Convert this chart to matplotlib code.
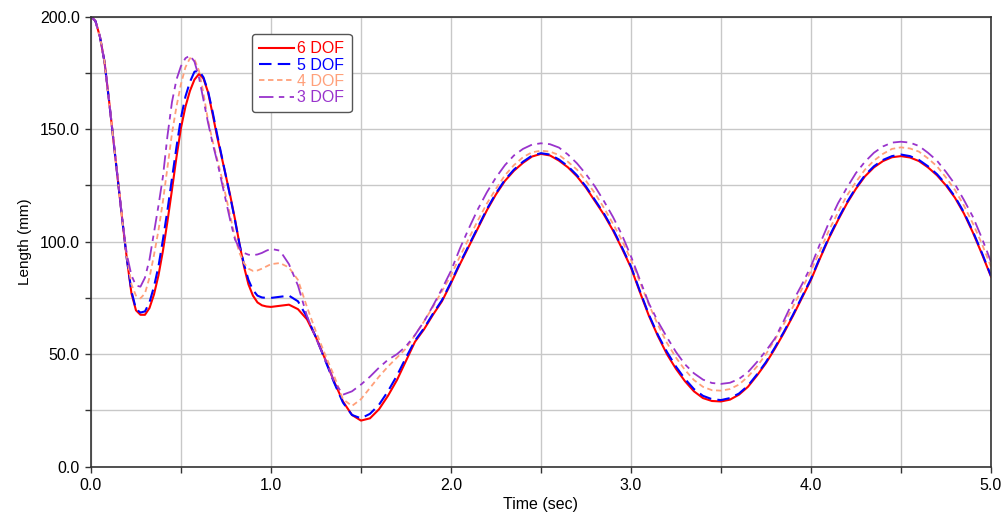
import matplotlib.pyplot as plt
from matplotlib.ticker import MultipleLocator, FormatStrFormatter

plt.rcParams['font.family'] = ['Liberation Sans', 'DejaVu Sans']

# time samples (sec): 0.025 steps up to 1.0, 0.05 steps after
t = [0.0, 0.025, 0.05, 0.075, 0.1, 0.125, 0.15, 0.175, 0.2, 0.225,
     0.25, 0.275, 0.3, 0.325, 0.35, 0.375, 0.4, 0.425, 0.45, 0.475,
     0.5, 0.525, 0.55, 0.575, 0.6, 0.625, 0.65, 0.675, 0.7, 0.725,
     0.75, 0.775, 0.8, 0.825, 0.85, 0.875, 0.9, 0.925, 0.95, 0.975,
     1.0, 1.05, 1.1, 1.15, 1.2, 1.25, 1.3, 1.35, 1.4, 1.45,
     1.5, 1.55, 1.6, 1.65, 1.7, 1.75, 1.8, 1.85, 1.9, 1.95,
     2.0, 2.05, 2.1, 2.15, 2.2, 2.25, 2.3, 2.35, 2.4, 2.45,
     2.5, 2.55, 2.6, 2.65, 2.7, 2.75, 2.8, 2.85, 2.9, 2.95,
     3.0, 3.05, 3.1, 3.15, 3.2, 3.25, 3.3, 3.35, 3.4, 3.45,
     3.5, 3.55, 3.6, 3.65, 3.7, 3.75, 3.8, 3.85, 3.9, 3.95,
     4.0, 4.05, 4.1, 4.15, 4.2, 4.25, 4.3, 4.35, 4.4, 4.45,
     4.5, 4.55, 4.6, 4.65, 4.7, 4.75, 4.8, 4.85, 4.9, 4.95, 5.0]

# length (mm) for each model
dof6 = [200, 198, 191, 180, 163, 145, 127, 109, 92, 77,
        69.5, 67.5, 67.5, 70.5, 76.5, 85, 96, 109, 123, 137.5,
        150.5, 160, 167, 172, 174.5, 172.5, 166.5, 157, 147, 138,
        129, 120, 110, 99, 89, 81, 76, 73, 71.7, 71.2,
        71, 71.5, 72, 70, 65.5, 57.5, 48, 38, 29, 23,
        20.5, 21.5, 25.5, 31.5, 38.5, 47, 55.5, 61, 67.5, 73.5,
        81.5, 90, 98, 106, 114, 121, 127, 131.5, 135, 137.8,
        139, 138.3, 136, 133, 129, 124, 118, 112, 105, 97,
        88.5, 77.5, 67, 58, 50, 43.5, 38, 33.5, 30.5, 29.2,
        29, 29.8, 32, 35.5, 40.5, 46, 52.5, 59.5, 67, 75,
        83, 92.5, 101.5, 109.5, 117, 123.5, 129, 133, 135.8, 137.5,
        138, 137.4, 135.8, 133, 129.5, 125, 119.5, 112.5, 104, 94.5, 84.5]

dof5 = [200, 198, 191, 180, 163, 145, 127, 109, 92, 78,
        70, 68.5, 69, 73, 80, 89, 101, 114, 128, 142,
        155, 164.5, 171, 175.5, 176, 173, 167, 158, 148, 138.5,
        129, 119.5, 109.5, 99, 90, 83, 78.5, 76, 75.2, 75,
        75, 75.5, 76, 73.5, 66.5, 57.5, 47.5, 37.5, 28.5, 23,
        21.5, 23.5, 27.5, 33.5, 40.5, 48.5, 56, 61.5, 68, 74,
        82, 90.5, 98.5, 106.5, 114.5, 121.5, 127.5, 132, 135.5, 138.2,
        139.3, 138.7, 136.5, 133.5, 129.5, 124.5, 118.5, 112.5, 105.5, 97.5,
        89, 78, 67.5, 58.5, 51, 44.5, 39, 34.5, 31.5, 30,
        29.6, 30.5, 32.5, 36, 41, 46.5, 53, 60, 67.5, 75.5,
        83.5, 93, 102, 110, 117.5, 124, 129.5, 133.5, 136.3, 138,
        138.7, 138, 136.3, 133.5, 130, 125.5, 120, 113, 104.5, 95, 84.8]

dof4 = [200, 198, 191, 180, 163, 145, 127, 109, 93, 81,
        76, 74.8, 77, 84, 94, 105, 118, 133, 148, 160,
        170, 177.5, 181.5, 181, 176, 166, 154, 145, 137, 129,
        120, 111, 102, 95, 90.5, 88, 87, 87.2, 88, 89,
        90, 90.5, 88.5, 83, 71, 60, 50, 40.5, 30, 27,
        30, 35, 40, 44.5, 48.5, 52.5, 58.5, 64.5, 71, 78,
        85, 93.5, 101.5, 109.5, 117, 123.5, 129.5, 134, 137.5, 139.7,
        140.4, 140, 138.5, 135.5, 132, 127, 121.5, 115, 108, 100.5,
        92, 82, 72, 63, 55, 48.5, 43, 38.5, 35.5, 34,
        33.8, 34.5, 36.5, 40, 44.5, 50, 56.5, 63.5, 71, 79,
        87, 96, 105, 113, 120.5, 126.5, 132, 136, 139, 141.2,
        141.9, 141.4, 140, 137, 133.5, 128.5, 123, 116, 108, 99, 88.9]

dof3 = [200, 198, 191, 180, 163, 145, 127, 109, 94, 85,
        80.5, 80, 84, 92, 104, 116, 129, 147, 162, 172,
        178, 181.5, 182.7, 180, 173, 163, 153, 144, 136, 127,
        118, 109, 101, 97, 95, 94.2, 94, 94.3, 95, 96,
        96.8, 96, 90, 80.5, 67, 57, 48, 38, 32, 33.5,
        36.5, 40, 44, 47.5, 50, 53.5, 58.5, 64.5, 71.5, 79,
        87, 97, 106, 114.5, 122, 128.5, 134, 138.3, 141.2, 143.1,
        143.7, 143.3, 141.8, 138.7, 134.8, 130, 124.5, 118, 111, 103,
        93.5, 83, 72.5, 64.5, 57.5, 51, 45.5, 41.5, 38.7, 37.2,
        36.8, 37.3, 39, 42, 46.5, 51.5, 57, 65, 73.5, 81,
        89, 99, 108.5, 117, 124, 130.5, 135.5, 139.5, 142.3, 144,
        144.4, 144, 142.5, 139.5, 136, 131, 125.5, 118.5, 111, 101.5, 91.1]

fig = plt.figure(figsize=(10.04, 5.18), dpi=100)
ax = fig.add_axes([0.0906, 0.099, 0.8964, 0.869])

ax.plot(t, dof6, color='#FF0000', lw=1.5, label='6 DOF')
ax.plot(t, dof5, color='#0000FF', lw=1.5, ls=(0, (6, 3)), label='5 DOF')
ax.plot(t, dof4, color='#FFA07A', lw=1.3, ls=(0, (3, 2)), label='4 DOF')
ax.plot(t, dof3, color='#9933CC', lw=1.3, ls=(0, (8, 3, 3, 3)), label='3 DOF')

ax.set_xlim(0, 5)
ax.set_ylim(0, 200)
ax.xaxis.set_major_locator(MultipleLocator(1.0))
ax.xaxis.set_minor_locator(MultipleLocator(0.5))
ax.yaxis.set_major_locator(MultipleLocator(50))
ax.yaxis.set_minor_locator(MultipleLocator(25))
ax.xaxis.set_major_formatter(FormatStrFormatter('%.1f'))
ax.yaxis.set_major_formatter(FormatStrFormatter('%.1f'))
ax.grid(True, which='both', color='#C8C8C8', lw=1.0)
ax.set_axisbelow(True)
ax.tick_params(which='both', direction='out', length=4, width=1, color='#333333',
               labelsize=11.5, pad=4)
for s in ax.spines.values():
    s.set_color('#333333')
    s.set_linewidth(1.2)

ax.set_xlabel('Time (sec)', fontsize=11.5, labelpad=3)
ax.set_ylabel('Length (mm)', fontsize=11, labelpad=6)

leg = ax.legend(loc='upper left', bbox_to_anchor=(0.1786, 0.961), borderaxespad=0,
                fontsize=11.5, handlelength=2.2, handletextpad=0.2, borderpad=0.45,
                labelspacing=0.08, fancybox=True, framealpha=1,
                edgecolor='#555555')
for txt, line in zip(leg.get_texts(), leg.get_lines()):
    txt.set_color(line.get_color())

fig.savefig('out.png', dpi=100)
